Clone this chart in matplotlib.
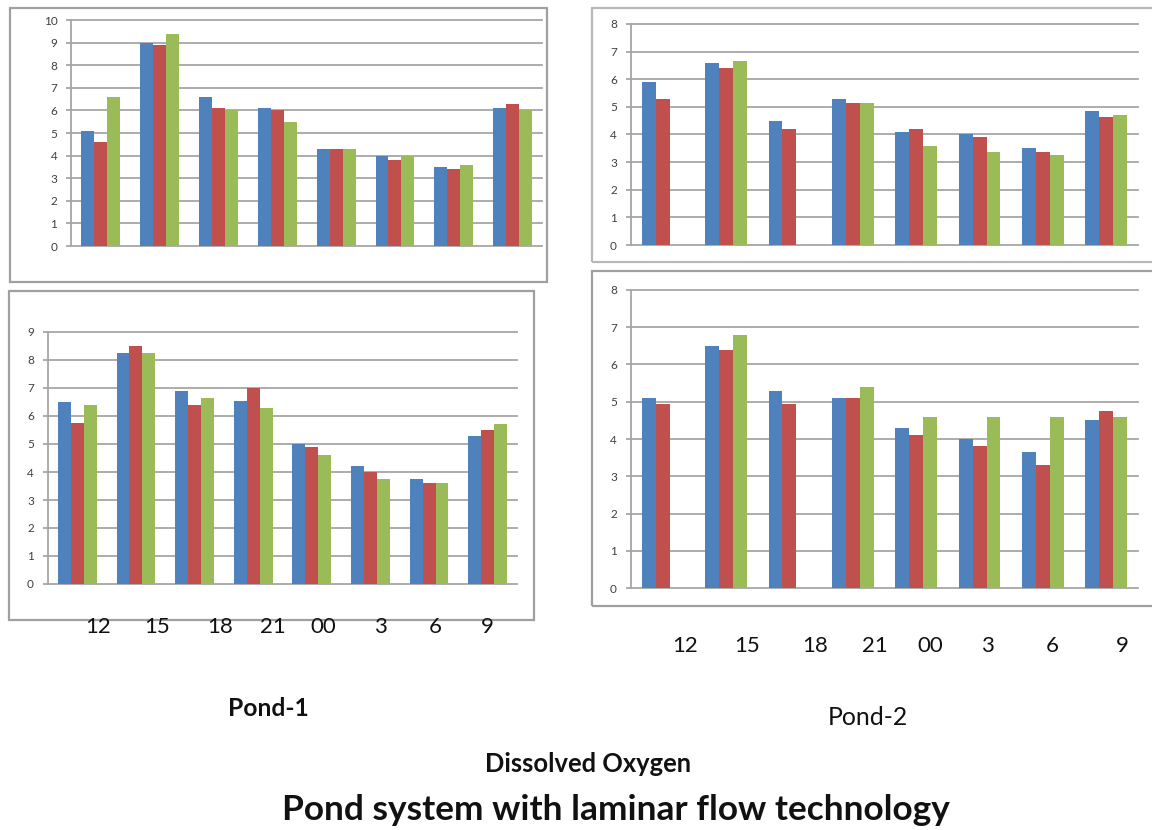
import numpy as np
import matplotlib
matplotlib.use("Agg")
import matplotlib.pyplot as plt
from matplotlib.patches import Rectangle
from matplotlib import transforms

# Sampling hours (categories) and dissolved oxygen readings for three series
hours = ["12", "15", "18", "21", "00", "3", "6", "9"]
series_names = ["Series 1", "Series 2", "Series 3"]

# Pond-1, upper chart
p1_top_s1 = [5.1, 9.0, 6.6, 6.1, 4.3, 4.0, 3.5, 6.1]
p1_top_s2 = [4.6, 8.9, 6.1, 6.0, 4.3, 3.8, 3.4, 6.3]
p1_top_s3 = [6.6, 9.4, 6.0, 5.5, 4.3, 4.0, 3.6, 6.0]

# Pond-1, lower chart
p1_bot_s1 = [6.5, 8.25, 6.9, 6.55, 5.0, 4.2, 3.75, 5.3]
p1_bot_s2 = [5.75, 8.5, 6.4, 7.0, 4.9, 4.0, 3.6, 5.5]
p1_bot_s3 = [6.4, 8.25, 6.65, 6.3, 4.6, 3.75, 3.6, 5.7]

# Pond-2, upper chart (no third-series reading at 12 and 18)
p2_top_s1 = [5.9, 6.6, 4.5, 5.3, 4.1, 4.0, 3.5, 4.85]
p2_top_s2 = [5.3, 6.4, 4.2, 5.15, 4.2, 3.9, 3.35, 4.65]
p2_top_s3 = [np.nan, 6.65, np.nan, 5.15, 3.6, 3.35, 3.25, 4.7]

# Pond-2, lower chart (no third-series reading at 12 and 18)
p2_bot_s1 = [5.1, 6.5, 5.3, 5.1, 4.3, 4.0, 3.65, 4.5]
p2_bot_s2 = [4.95, 6.4, 4.95, 5.1, 4.1, 3.8, 3.3, 4.75]
p2_bot_s3 = [np.nan, 6.8, np.nan, 5.4, 4.6, 4.6, 4.6, 4.6]

colors = ["#4F81BD", "#C0504D", "#9BBB59"]
GRID = "#a6a6a6"
W, H = 1152, 830

fig = plt.figure(figsize=(W / 100, H / 100), dpi=100)
fig.patch.set_facecolor("white")


def px_rect(x0, y0, x1, y1):
    """Figure-fraction rectangle from pixel corners (origin top-left)."""
    return [x0 / W, 1 - y1 / H, (x1 - x0) / W, (y1 - y0) / H]


def frame(x0, y0, x1, y1, color="#a0a0a0"):
    l, b, w, h = px_rect(x0, y0, x1, y1)
    fig.add_artist(Rectangle((l, b), w, h, transform=fig.transFigure,
                             fill=False, ec=color, lw=1.6, zorder=0))


def bar_panel(rect, data, ymax, label_pos=None, label_drop=None):
    ax = fig.add_axes(px_rect(*rect))
    ax.set_facecolor("none")
    x = np.arange(len(hours))
    bw = 0.22
    for i, vals in enumerate(data):
        ax.bar(x + (i - 1) * bw, vals, width=bw, color=colors[i],
               label=series_names[i], zorder=3, linewidth=0)
    ax.set_xlim(-0.5, len(hours) - 0.5)
    ax.set_ylim(0, ymax)
    ax.set_yticks(range(ymax + 1))
    ax.yaxis.grid(True, color=GRID, lw=1.3)
    for gl in ax.get_ygridlines():
        gl.set_clip_on(False)
    ax.set_axisbelow(True)
    for s in ("top", "right", "bottom"):
        ax.spines[s].set_visible(False)
    ax.spines["left"].set_color(GRID)
    ax.spines["left"].set_linewidth(1.3)
    ax.tick_params(axis="y", length=3.6, width=1.3, color=GRID, pad=6.5,
                   labelsize=8.5, labelcolor="#404040")
    for t in ax.get_yticklabels():
        t.set_family("Lato")
    ax.set_xticks([])
    if label_pos is not None:
        tr = transforms.offset_copy(ax.get_xaxis_transform(), fig=fig,
                                    y=-label_drop, units="dots")
        for p, lbl in zip(label_pos, hours):
            ax.text(p, 0, lbl, transform=tr, ha="center", va="baseline",
                    fontsize=16, family="Lato", color="#111111")
    return ax


# panel frames
frame(9.5, 8, 547, 282)
frame(592, 8, 1170, 262, color="#b8b8b8")
frame(9, 291, 534, 620)
frame(592, 271, 1170, 606)

bar_panel((71.4, 20, 542, 246), [p1_top_s1, p1_top_s2, p1_top_s3], 10)
bar_panel((631, 24, 1138, 245), [p2_top_s1, p2_top_s2, p2_top_s3], 8)
bar_panel((48, 332, 517, 584), [p1_bot_s1, p1_bot_s2, p1_bot_s3], 9,
          label_pos=[0.35, 1.36, 2.44, 3.34, 4.19, 5.17, 6.10, 6.99],
          label_drop=49)
bar_panel((631, 290, 1138, 588), [p2_bot_s1, p2_bot_s2, p2_bot_s3], 8,
          label_pos=[0.35, 1.33, 2.40, 3.35, 4.22, 5.12, 6.14, 7.26],
          label_drop=64)


def caption(text, cx, baseline, width, weight):
    t = fig.text(cx / W, 1 - baseline / H, text, ha="center", va="baseline",
                 family="Lato", fontweight=weight, fontsize=20, color="#111111")
    r = fig.canvas.get_renderer()
    cur = t.get_window_extent(renderer=r).width
    t.set_fontsize(20 * width / cur)
    return t


caption("Pond-1", 268, 716, 81, "bold")
caption("Pond-2", 868, 725, 80, "normal")
caption("Dissolved Oxygen", 588, 772, 206, "bold")
caption("Pond system with laminar flow technology", 616, 820, 666, "bold")

fig.savefig("out.png", dpi=100, facecolor="white")
